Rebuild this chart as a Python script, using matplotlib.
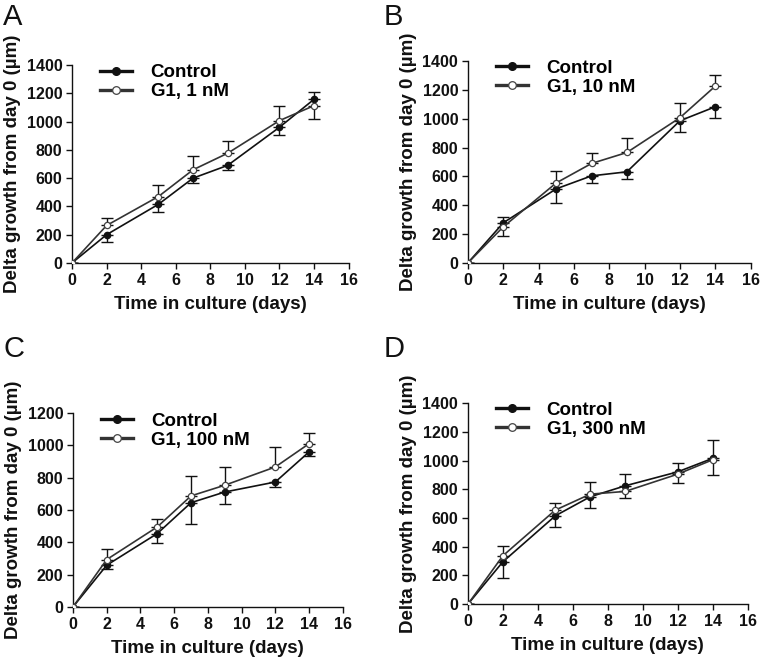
import matplotlib
matplotlib.use("Agg")
import matplotlib.pyplot as plt
import numpy as np

plt.rcParams['font.family'] = ['Liberation Sans', 'DejaVu Sans']

days = [0, 2, 5, 7, 9, 12, 14]

# panel A - G1 1 nM
ctrl_a = [0, 200, 415, 600, 690, 960, 1158]
ctrl_a_err = [0, 50, 55, 35, 35, 55, 50]
g1_a = [0, 265, 470, 659, 776, 1007, 1113]
g1_a_err = [0, 50, 85, 100, 85, 100, 95]

# panel B - G1 10 nM
ctrl_b = [0, 278, 514, 604, 632, 986, 1083]
ctrl_b_err = [0, 40, 95, 50, 50, 75, 80]
g1_b = [0, 250, 555, 690, 766, 1007, 1226]
g1_b_err = [0, 65, 80, 75, 100, 100, 77]

# panel C - G1 100 nM
ctrl_c = [0, 258, 454, 645, 711, 773, 959]
ctrl_c_err = [0, 25, 60, 130, 72, 30, 25]
g1_c = [0, 293, 495, 687, 753, 866, 1010]
g1_c_err = [0, 68, 50, 125, 110, 124, 68]

# panel D - G1 300 nM
ctrl_d = [0, 295, 615, 748, 824, 921, 1015]
ctrl_d_err = [0, 110, 77, 75, 80, 65, 128]
g1_d = [0, 337, 655, 766, 785, 905, 1005]
g1_d_err = [0, 70, 50, 88, 47, 62, 105]

panel_letters = ["A", "B", "C", "D"]
g1_labels = ["G1, 1 nM", "G1, 10 nM", "G1, 100 nM", "G1, 300 nM"]
y_maxes = [1400, 1400, 1200, 1400]

panels = [
    (ctrl_a, ctrl_a_err, g1_a, g1_a_err),
    (ctrl_b, ctrl_b_err, g1_b, g1_b_err),
    (ctrl_c, ctrl_c_err, g1_c, g1_c_err),
    (ctrl_d, ctrl_d_err, g1_d, g1_d_err),
]

# axes rectangles in figure fractions (left, bottom, width, height)
rects = [
    (0.0945, 0.604, 0.363, 0.298),
    (0.614, 0.604, 0.371, 0.304),
    (0.0958, 0.086, 0.354, 0.292),
    (0.614, 0.090, 0.367, 0.303),
]
letter_pos = [(0.004, 0.995), (0.503, 0.995), (0.004, 0.495), (0.503, 0.495)]

fig = plt.figure(figsize=(7.62, 6.64), dpi=100)

for i in range(4):
    ctrl, ctrl_err, g1, g1_err = panels[i]
    ax = fig.add_axes(rects[i])
    ctrl = np.array(ctrl)
    g1 = np.array(g1)
    ctrl_err = np.array(ctrl_err)
    g1_err = np.array(g1_err)

    # higher series shows the upper bar, lower series the lower bar
    ctrl_up = ctrl >= g1
    ctrl_yerr = [np.where(ctrl_up, 0, ctrl_err), np.where(ctrl_up, ctrl_err, 0)]
    g1_yerr = [np.where(ctrl_up, g1_err, 0), np.where(ctrl_up, 0, g1_err)]

    ax.errorbar(days, ctrl, yerr=ctrl_yerr, fmt='none', ecolor='#111111',
                elinewidth=1.0, capsize=4, capthick=1.0, zorder=2)
    ax.errorbar(days, g1, yerr=g1_yerr, fmt='none', ecolor='#111111',
                elinewidth=1.0, capsize=4, capthick=1.0, zorder=2)

    ax.plot(days, ctrl, color='#111111', lw=1.2, marker='o', ms=4.5,
            mfc='#111111', mec='#111111', label='Control', zorder=3)
    ax.plot(days, g1, color='#333333', lw=1.2, marker='o', ms=4.5,
            mfc='white', mec='#444444', mew=0.9, label=g1_labels[i], zorder=4)

    ax.set_xlim(0, 16)
    ax.set_ylim(0, y_maxes[i])
    ax.set_xticks(range(0, 17, 2))
    ax.set_yticks(range(0, y_maxes[i] + 1, 200))
    ax.spines['top'].set_visible(False)
    ax.spines['right'].set_visible(False)
    for s in ['left', 'bottom']:
        ax.spines[s].set_linewidth(1.0)
        ax.spines[s].set_color('#111111')
    ax.tick_params(direction='out', length=4, width=1.0, labelsize=11.5,
                   colors='#111111', pad=3)
    for lab in ax.get_xticklabels() + ax.get_yticklabels():
        lab.set_fontweight('bold')

    ax.set_xlabel('Time in culture (days)', fontsize=13.5, fontweight='bold',
                  color='#111111', labelpad=6)
    ax.set_ylabel('Delta growth from day 0 (µm)', fontsize=13.5,
                  fontweight='bold', color='#111111', labelpad=4)

    leg = ax.legend(loc='upper left', bbox_to_anchor=(0.04, 1.09), frameon=False,
                    handlelength=1.7, handletextpad=1.0, labelspacing=0.1,
                    prop={'weight': 'bold', 'size': 13.5})
    for h in leg.legend_handles:
        h.set_linewidth(2.4)
        h.set_markersize(5.5)

    fig.text(letter_pos[i][0], letter_pos[i][1], panel_letters[i], fontsize=21,
             va='top', ha='left', color='#111111')

fig.savefig('out.png', dpi=100)
